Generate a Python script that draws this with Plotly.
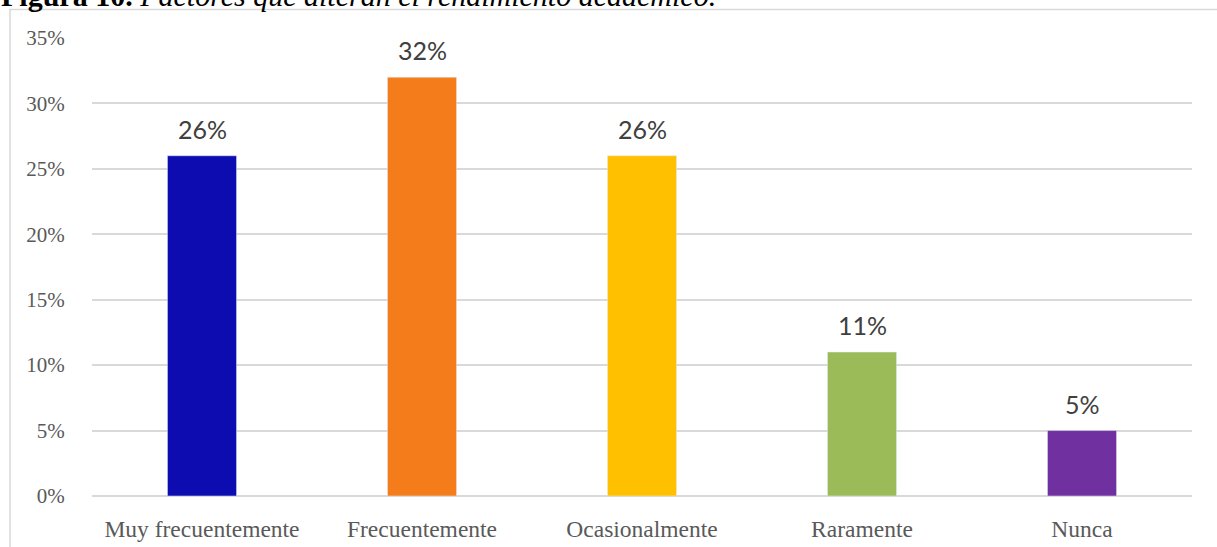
import plotly.graph_objects as go

categories = ["Muy frecuentemente", "Frecuentemente", "Ocasionalmente", "Raramente", "Nunca"]
values = [0.26, 0.32, 0.26, 0.11, 0.05]
labels = ["26%", "32%", "26%", "11%", "5%"]
colors = ["#0c0cb0", "#f47c1a", "#ffc000", "#9bbb59", "#7030a0"]
tick_vals = [0, 0.05, 0.10, 0.15, 0.20, 0.25, 0.30, 0.35]
tick_text = ["0%", "5%", "10%", "15%", "20%", "25%", "30%", "35%"]

W, H = 1217, 547
L, R, T, B = 92, 25, 38, 51
PW, PH = W - L - R, H - T - B

def px(x):
    return (x - L) / PW

def py(y):
    return (H - B - y) / PH

fig = go.Figure(go.Bar(
    x=categories, y=values, marker_color=colors, width=0.314,
    hoverinfo="x+y",
))

value_notes = [dict(x=c, y=v, text=t, xref="x", yref="y", showarrow=False,
                    yanchor="bottom", yshift=10,
                    font=dict(family="Lato", size=25, color="#404040"))
               for c, v, t in zip(categories, values, labels)]

fig.update_layout(
    width=W, height=H,
    margin=dict(l=L, r=R, t=T, b=B, autoexpand=False),
    paper_bgcolor="white", plot_bgcolor="white",
    showlegend=False,
    font=dict(family="Liberation Serif", size=21, color="#595959"),
    xaxis=dict(showgrid=False, showline=False, ticks="outside", ticklen=0, automargin=False,
               ticklabelstandoff=12, tickfont=dict(family="Liberation Serif", size=23.5, color="#595959")),
    yaxis=dict(range=[0, 0.35], tickvals=tick_vals, ticktext=tick_text, automargin=False,
               showgrid=True, gridcolor="#d9d9d9", gridwidth=1.5,
               zeroline=True, zerolinecolor="#d9d9d9", zerolinewidth=2,
               showline=False, ticks="outside", ticklen=0, ticklabelstandoff=22,
               tickfont=dict(family="Liberation Serif", size=21, color="#595959")),
    shapes=[dict(type="rect", xref="paper", yref="paper",
                 x0=px(10), x1=px(1240), y0=py(570), y1=py(9.5),
                 line=dict(color="#d9d9d9", width=1.5), fillcolor="rgba(0,0,0,0)", layer="below")],
    annotations=value_notes + [dict(xref="paper", yref="paper", x=px(-1), y=py(14), xanchor="left", yanchor="bottom",
                      showarrow=False,
                      text="<b>Figura 10.</b> <i>Factores que alteran el rendimiento académico.</i>",
                      font=dict(family="Liberation Serif", size=30, color="black"))],
)

fig.write_html("out.html", config={"displayModeBar": False},
               post_script="document.body.style.margin='0';")
